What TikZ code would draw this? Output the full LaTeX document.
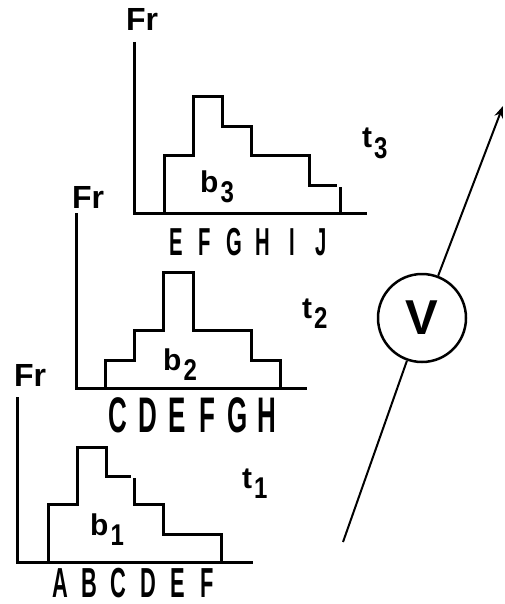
\documentclass[tikz,border=0pt]{standalone}
\usepackage{fontspec}
\usepackage{tikz}
\usetikzlibrary{positioning,calc,arrows.meta}
\newfontfamily\labfont{Liberation Sans}
\newfontfamily\narrowfont[FakeStretch=0.52]{Liberation Sans}
\newfontfamily\digitfont[FakeStretch=0.8]{Liberation Sans}
\newcommand{\sublab}[2]{{\labfont\bfseries\fontsize{30}{30}\selectfont #1}\hspace{2pt}\raisebox{-10pt}{\digitfont\bfseries\fontsize{30}{30}\selectfont #2}}

\tikzset{
    axisline/.style={line width=3pt},
    bars/.style={line width=3pt},
    letter/.style={anchor=base, inner sep=0pt, font=\narrowfont\bfseries\fontsize{#1}{#1}\selectfont},
    frlab/.style={inner sep=0pt, font=\labfont\bfseries\fontsize{32}{32}\selectfont},
    sublabel/.style={anchor=base west, inner sep=0pt},
}

\begin{document}
\begin{tikzpicture}[x=1pt,y=-1pt]
    \useasboundingbox (0,0) rectangle (504,604);

    % Time t3
    \draw[axisline] (134,42) -- (134,213) -- (367,213);
    \draw[bars] (164,213) -- (164,156) -- (193,156) -- (193,97) -- (222,97) -- (222,127)
        -- (251,127) -- (251,156) -- (309,156) -- (309,185) -- (337,185);
    \draw[bars] (340,187) -- (340,213);
    \node[frlab] (fr3) at (142,19) {Fr};
    \node[sublabel] (b3) at (200,192) {\sublab{b}{3}};
    \node[sublabel] (t3) at (362,148) {\sublab{t}{3}};
    \foreach \l [count=\i from 0] in {E,F,G,H,I,J}
        \node[letter=39] (top\i) at (176+29*\i,255) {\l};

    % Time t2
    \draw[axisline] (76,213) -- (76,388) -- (307,388);
    \draw[bars] (105,388) -- (105,360) -- (134,360) -- (134,330) -- (163,330) -- (163,272)
        -- (193,272) -- (193,330) -- (251,330) -- (251,360) -- (280,360) -- (280,388);
    \node[frlab] (fr2) at (88,197) {Fr};
    \node[sublabel] (b2) at (163,370) {\sublab{b}{2}};
    \node[sublabel] (t2) at (302,318) {\sublab{t}{2}};
    \foreach \l [count=\i from 0] in {C,D,E,F,G,H}
        \node[letter=50] (mid\i) at (118+29.8*\i,432) {\l};

    % Time t1
    \draw[axisline] (17,397) -- (17,562) -- (253,562);
    \draw[bars] (48,562) -- (48,504) -- (77,504) -- (77,447) -- (106,447) -- (106,476) -- (131,476);
    \draw[bars] (134,478) -- (134,504) -- (163,504) -- (163,534) -- (221,534) -- (221,562);
    \node[frlab] (fr1) at (30,375) {Fr};
    \node[sublabel] (b1) at (90,535) {\sublab{b}{1}};
    \node[sublabel] (t1) at (242,488) {\sublab{t}{1}};
    \foreach \l [count=\i from 0] in {A,B,C,D,E,F}
        \node[letter=42] (bot\i) at (60+29.4*\i,597) {\l};

    % Velocity
    \node[circle, draw, line width=2.5pt, minimum size=88pt, inner sep=0pt,
        font=\labfont\bfseries\fontsize{49}{49}\selectfont] (volt) at (422,318) {V};
    \coordinate (start) at (343,542);
    \coordinate (tip) at (503,106);
    \draw[line width=2pt] (start) -- (volt);
    \draw[line width=2pt, -{Stealth[length=12pt,width=9pt]}] (volt) -- (tip);
\end{tikzpicture}
\end{document}
